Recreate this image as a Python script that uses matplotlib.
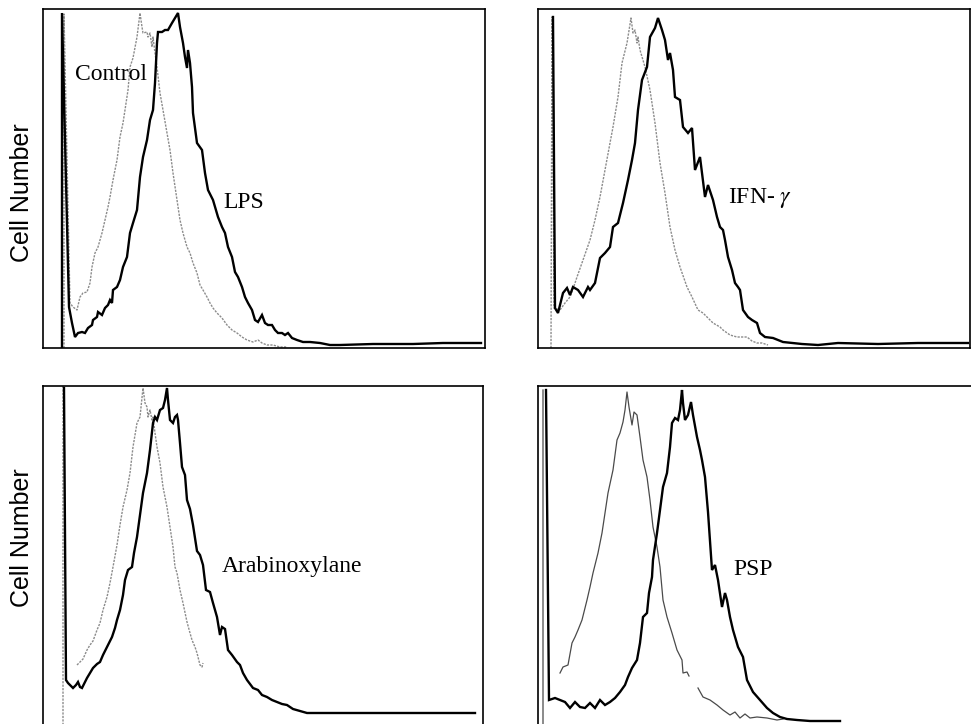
import numpy as np
import matplotlib
matplotlib.use("Agg")
import matplotlib.pyplot as plt

nan = np.nan

# ---------------- data: (channel, cell count) ----------------
# Panel A: Control vs LPS
ctrl_a = [(21, 0), (21, 334), (27, 45), (30, 41), (34, 38), (37, 51), (40, 55), (44, 56), (47, 65),
          (49, 81), (52, 95), (55, 101), (59, 115), (62, 128), (65, 141), (67, 151), (70, 168),
          (74, 188), (77, 211), (80, 225), (82, 238), (85, 258), (87, 281), (90, 290), (94, 311),
          (97, 335), (99, 321), (100, 315), (104, 316), (105, 311), (107, 315), (109, 301),
          (110, 311), (112, 295), (114, 281), (117, 255), (120, 238), (124, 215), (127, 198),
          (130, 175), (134, 148), (137, 128), (140, 115), (144, 101), (147, 95), (150, 85),
          (154, 75), (157, 63), (160, 58), (164, 51), (167, 45), (170, 40), (174, 35), (179, 30),
          (184, 23), (189, 18), (194, 15), (199, 11), (204, 8), (210, 6), (215, 8), (219, 5),
          (224, 3), (230, 3), (237, 1), (244, 1)]
lps = [(19, 0), (19, 335), (26, 41), (29, 25), (32, 11), (35, 15), (39, 16), (42, 15), (45, 20),
       (49, 23), (50, 28), (54, 31), (55, 36), (59, 33), (62, 40), (65, 43), (67, 48), (69, 45),
       (70, 58), (74, 61), (77, 68), (80, 81), (84, 91), (87, 115), (90, 125), (94, 138), (97, 171),
       (100, 191), (104, 208), (107, 228), (110, 238), (112, 265), (114, 305), (115, 316),
       (119, 316), (122, 318), (125, 318), (129, 325), (132, 330), (135, 335), (137, 321),
       (140, 305), (142, 291), (144, 280), (145, 298), (147, 285), (149, 261), (150, 235),
       (154, 205), (159, 198), (162, 175), (165, 158), (170, 148), (175, 131), (179, 121),
       (182, 115), (185, 101), (189, 91), (192, 76), (195, 71), (199, 61), (202, 51), (205, 45),
       (209, 38), (212, 28), (215, 26), (219, 33), (222, 25), (225, 23), (229, 23), (232, 18),
       (235, 15), (239, 15), (242, 13), (245, 15), (249, 10), (254, 8), (260, 6), (267, 6),
       (277, 5), (287, 3), (297, 3), (330, 4), (370, 4), (400, 5), (438, 5)]

# Panel B: Control vs IFN-gamma
ctrl_b = [(13, 0), (14, 331), (16, 40), (22, 38), (27, 45), (32, 51), (36, 62), (39, 71), (45, 88),
          (52, 108), (57, 128), (62, 151), (67, 178), (72, 205), (75, 221), (80, 251), (84, 285),
          (89, 305), (93, 330), (95, 315), (97, 318), (99, 305), (100, 311), (102, 298), (107, 281),
          (112, 258), (117, 225), (122, 185), (127, 155), (132, 121), (137, 98), (142, 81),
          (149, 61), (154, 51), (160, 38), (165, 35), (169, 31), (175, 25), (182, 21), (185, 18),
          (192, 13), (199, 11), (209, 11), (214, 7), (219, 5), (224, 5), (230, 3)]
ifn = [(15, 331), (17, 40), (20, 35), (25, 55), (29, 60), (32, 53), (35, 61), (40, 58), (45, 51),
       (50, 61), (52, 58), (57, 65), (62, 90), (67, 95), (72, 101), (75, 121), (80, 125), (85, 145),
       (90, 168), (94, 188), (97, 205), (100, 238), (104, 268), (109, 281), (112, 311), (117, 320),
       (120, 330), (124, 318), (127, 308), (130, 288), (132, 295), (135, 278), (137, 251),
       (142, 248), (145, 221), (150, 215), (154, 220), (157, 178), (162, 191), (167, 151),
       (170, 163), (175, 148), (179, 131), (182, 121), (185, 118), (187, 108), (190, 91),
       (194, 78), (197, 65), (200, 61), (202, 58), (205, 38), (210, 31), (214, 28), (219, 25),
       (222, 15), (227, 11), (235, 10), (245, 6), (264, 4), (280, 3), (300, 5), (340, 4),
       (380, 5), (430, 5)]

# Panel C: Control vs Arabinoxylane
ctrl_c = [(20, 0), (20, 339), (nan, nan), (34, 60), (37, 63), (40, 66), (44, 75), (47, 80), (50, 84),
          (54, 95), (57, 102), (60, 115), (64, 128), (67, 142), (70, 158), (74, 180), (77, 200),
          (80, 218), (84, 235), (87, 252), (90, 278), (94, 302), (97, 308), (100, 337), (102, 322),
          (104, 318), (105, 308), (107, 315), (109, 305), (110, 308), (112, 292), (114, 278),
          (117, 262), (120, 238), (124, 218), (127, 198), (130, 178), (132, 158), (134, 152),
          (137, 135), (140, 122), (144, 103), (147, 92), (149, 85), (152, 78), (154, 72),
          (157, 60), (159, 58), (160, 62)]
arabino = [(21, 337), (23, 45), (25, 42), (30, 37), (33, 40), (35, 43), (37, 38), (39, 37), (42, 43),
           (44, 47), (47, 52), (50, 57), (54, 61), (57, 63), (60, 70), (64, 78), (67, 84), (69, 88),
           (72, 97), (74, 105), (77, 115), (80, 130), (82, 145), (85, 155), (89, 158), (91, 172),
           (94, 188), (97, 210), (100, 232), (104, 252), (107, 275), (110, 302), (112, 308),
           (114, 305), (117, 315), (120, 317), (122, 325), (124, 337), (125, 325), (127, 305),
           (130, 302), (132, 308), (134, 310), (135, 305), (137, 282), (139, 258), (142, 250),
           (144, 225), (147, 216), (150, 200), (154, 174), (157, 170), (160, 160), (163, 135),
           (167, 133), (170, 122), (174, 108), (177, 90), (179, 98), (182, 96), (185, 75),
           (189, 70), (194, 63), (197, 60), (200, 52), (204, 45), (207, 41), (210, 37), (215, 35),
           (219, 30), (224, 28), (229, 25), (234, 23), (239, 21), (244, 20), (250, 16), (257, 14),
           (264, 12), (300, 12), (350, 12), (400, 12), (432, 12)]

# Panel D: Control vs PSP
ctrl_d = [(5, 0), (5, 335), (nan, nan), (22, 52), (25, 58), (30, 60), (34, 82), (37, 88), (40, 95),
          (44, 105), (49, 125), (52, 138), (55, 152), (60, 172), (64, 192), (67, 212), (70, 232),
          (75, 255), (79, 285), (82, 292), (85, 303), (87, 315), (89, 333), (91, 318), (94, 300),
          (96, 313), (99, 310), (102, 288), (105, 265), (109, 248), (112, 225), (115, 198),
          (119, 178), (122, 158), (125, 125), (129, 108), (134, 92), (139, 75), (144, 65),
          (145, 52), (149, 53), (151, 49), (nan, nan), (160, 37), (165, 28), (172, 25), (179, 20),
          (185, 15), (192, 10), (197, 13), (202, 7), (207, 11), (212, 7), (219, 8), (229, 7),
          (239, 5), (245, 6)]
psp = [(8, 335), (11, 25), (17, 27), (22, 25), (27, 23), (32, 17), (37, 23), (42, 18), (47, 17),
       (52, 22), (57, 17), (62, 25), (67, 20), (72, 23), (77, 27), (82, 33), (87, 40), (90, 48),
       (94, 57), (99, 65), (102, 82), (105, 108), (109, 112), (111, 132), (114, 148), (115, 165),
       (119, 192), (122, 215), (125, 238), (129, 252), (132, 278), (134, 302), (137, 307),
       (140, 305), (142, 315), (144, 335), (145, 322), (147, 305), (150, 310), (153, 323),
       (155, 310), (159, 288), (162, 275), (164, 265), (167, 248), (170, 213), (174, 155),
       (177, 160), (180, 145), (184, 118), (187, 132), (189, 125), (192, 108), (195, 95),
       (200, 78), (205, 68), (209, 45), (215, 33), (222, 25), (229, 17), (235, 12), (242, 8),
       (249, 6), (259, 5), (272, 4), (285, 4), (302, 4)]

labels = ["LPS", "IFN- $\\gamma$", "Arabinoxylane", "PSP"]
control_label = "Control"
ylabel = "Cell Number"

# ---------------- layout ----------------
W, H = 971, 724
fig = plt.figure(figsize=(W / 100, H / 100), dpi=100)
plt.rcParams["mathtext.fontset"] = "stix"


def px_axes(left, top, width, height):
    return fig.add_axes([left / W, (H - top - height) / H, width / W, height / H])


panels = [
    dict(box=(43, 9, 442, 339), ctrl=ctrl_a, trt=lps, lab=labels[0], lab_xy=(180, 140),
         ctrl_style="dot", bottom=True),
    dict(box=(538, 9, 432, 339), ctrl=ctrl_b, trt=ifn, lab=labels[1], lab_xy=(190, 145),
         ctrl_style="dot", bottom=True),
    dict(box=(43, 386, 440, 339), ctrl=ctrl_c, trt=arabino, lab=labels[2], lab_xy=(179, 153),
         ctrl_style="dot", bottom=False),
    dict(box=(538, 386, 440, 339), ctrl=ctrl_d, trt=psp, lab=labels[3], lab_xy=(195, 150),
         ctrl_style="solid", bottom=False),
]

serif = ["Liberation Serif", "DejaVu Serif"]

for i, p in enumerate(panels):
    ax = px_axes(*p["box"])
    ax.set_xlim(0, p["box"][2])
    ax.set_ylim(0, 339)
    cx, cy = np.array(p["ctrl"], dtype=float).T
    tx, ty = np.array(p["trt"], dtype=float).T
    if p["ctrl_style"] == "dot":
        ax.plot(cx, cy, color="#8c8c8c", lw=1.0, ls=(0, (1.6, 0.9)), solid_joinstyle="miter")
    else:
        ax.plot(cx, cy, color="#4a4a4a", lw=0.9)
    ax.plot(tx, ty, color="black", lw=1.7, solid_joinstyle="miter")
    ax.set_xticks([])
    ax.set_yticks([])
    for s in ax.spines.values():
        s.set_linewidth(1.2)
        s.set_color("black")
    if not p["bottom"]:
        ax.spines["bottom"].set_visible(False)
    ax.text(*p["lab_xy"], p["lab"], family=serif, fontsize=17, ha="left", va="baseline")
    if i == 0:
        ax.text(32, 268, control_label, family=serif, fontsize=17, ha="left", va="baseline")

for yc in (193, 538):
    fig.text(22 / W, 1 - yc / H, ylabel, rotation=90, ha="center", va="center",
             family=["Liberation Sans", "DejaVu Sans"], fontsize=18)

fig.savefig("out.png", dpi=100)
